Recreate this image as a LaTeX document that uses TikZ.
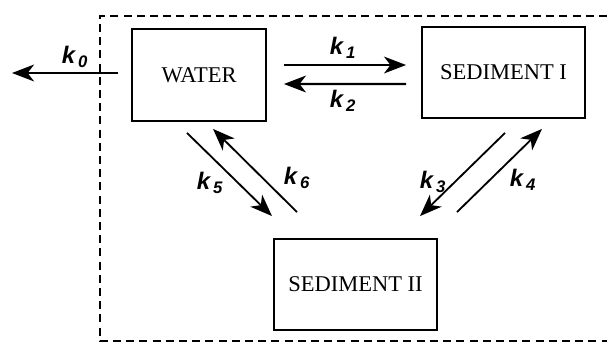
\documentclass[tikz,border=0pt]{standalone}
\usepackage{fontspec}
\setmainfont{Liberation Serif}
\newfontfamily\ratefont{Liberation Sans}
\usepackage{tikz}
\usetikzlibrary{arrows.meta, positioning, calc}
\newcommand{\rate}[1]{{\ratefont\bfseries\itshape k\textsubscript{\,#1}}}

\begin{document}
\begin{tikzpicture}[
  x=0.025cm, y=-0.025cm,
  box/.style={rectangle, draw=black, line width=1.3pt, minimum width=4.075cm, minimum height=2.275cm, align=center, font=\fontsize{16}{18}\selectfont},
  arrow/.style={-{Stealth[length=0.55cm, width=0.42cm, inset=0.16cm]}, line width=1.6pt},
  diag/.style={-{Stealth[length=0.55cm, width=0.42cm, inset=0.16cm]}, line width=1.3pt},
  lbl/.style={font=\fontsize{17}{18}\selectfont, inner sep=0pt},
]
  \useasboundingbox (0,0) rectangle (607,343);

  % compartments
  \node[box, minimum width=3.35cm, minimum height=2.3cm] (water) at (199,75) {WATER};
  \node[box] (sedA) at (503.5,72.5) {SEDIMENT I};
  \node[box] (sedB) at (355.5,284.5) {SEDIMENT II};

  % system boundary
  \draw[dash pattern=on 0.2cm off 0.13cm, line width=2pt] (607,16) -- (100,16) -- (100,341) -- (607,341);

  % loss out of the system
  \coordinate (out) at (12,73);
  \draw[arrow] ($(water.west)+(-13,-2)$) -- (out);
  \node[lbl] (k0) at (75,57) {\rate{0}};

  % water <-> sediment I
  \draw[arrow] ($(water.east)+(17,-10)$) -- ($(sedA.west)+(-15,-7.5)$);
  \draw[arrow] ($(sedA.west)+(-15,11.5)$) -- ($(water.east)+(17,9)$);
  \node[lbl] (k1) at (343,48) {\rate{1}};
  \node[lbl] (k2) at (343,101) {\rate{2}};

  % water <-> sediment II
  \draw[diag] ($(water.south)+(-12,11)$) -- ($(sedB.north)+(-83.5,-22)$);
  \draw[diag] ($(sedB.north)+(-58.5,-26)$) -- ($(water.south)+(14,7)$);
  \node[lbl] (k5) at (210,183) {\rate{5}};
  \node[lbl] (k6) at (297,178) {\rate{6}};

  % sediment I <-> sediment II
  \draw[diag] ($(sedA.south)+(1.5,14)$) -- ($(sedB.north)+(64.5,-22)$);
  \draw[diag] ($(sedB.north)+(101.5,-26)$) -- ($(sedA.south)+(38.5,10)$);
  \node[lbl] (k3) at (433,182) {\rate{3}};
  \node[lbl] (k4) at (523,180) {\rate{4}};
\end{tikzpicture}
\end{document}
